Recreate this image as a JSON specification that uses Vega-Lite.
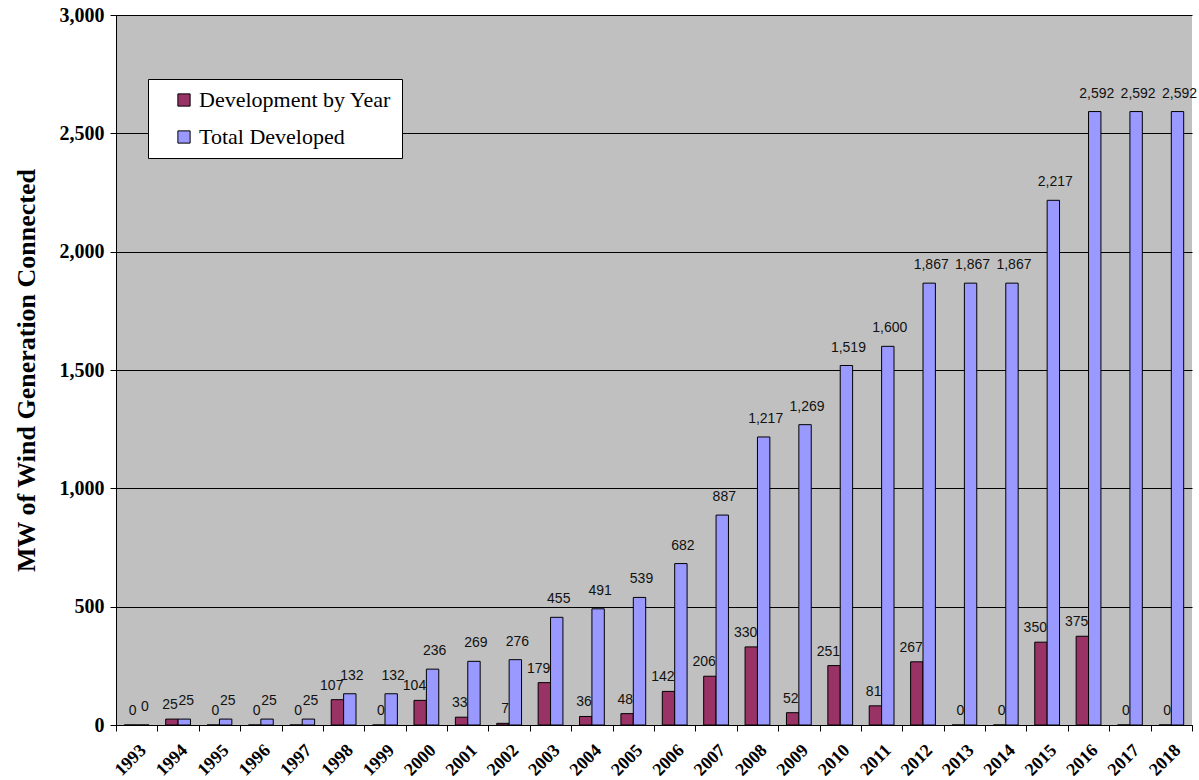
{
  "$schema": "https://vega.github.io/schema/vega-lite/v6.json",
  "width": 1076,
  "height": 710,
  "autosize": {"type": "none"},
  "padding": {"left": 116, "top": 15, "right": 7, "bottom": 55},
  "background": "white",
  "config": {
    "view": {"fill": "#C0C0C0", "stroke": null},
    "axis": {"domainColor": "black", "tickColor": "black", "gridColor": "black", "gridOpacity": 1, "labelColor": "black", "titleColor": "black"}
  },
  "data": {
    "values": [
      {"year": "1993", "series": "Development by Year", "value": 0},
      {"year": "1993", "series": "Total Developed", "value": 0},
      {"year": "1994", "series": "Development by Year", "value": 25},
      {"year": "1994", "series": "Total Developed", "value": 25},
      {"year": "1995", "series": "Development by Year", "value": 0},
      {"year": "1995", "series": "Total Developed", "value": 25},
      {"year": "1996", "series": "Development by Year", "value": 0},
      {"year": "1996", "series": "Total Developed", "value": 25},
      {"year": "1997", "series": "Development by Year", "value": 0},
      {"year": "1997", "series": "Total Developed", "value": 25},
      {"year": "1998", "series": "Development by Year", "value": 107},
      {"year": "1998", "series": "Total Developed", "value": 132},
      {"year": "1999", "series": "Development by Year", "value": 0},
      {"year": "1999", "series": "Total Developed", "value": 132},
      {"year": "2000", "series": "Development by Year", "value": 104},
      {"year": "2000", "series": "Total Developed", "value": 236},
      {"year": "2001", "series": "Development by Year", "value": 33},
      {"year": "2001", "series": "Total Developed", "value": 269},
      {"year": "2002", "series": "Development by Year", "value": 7},
      {"year": "2002", "series": "Total Developed", "value": 276},
      {"year": "2003", "series": "Development by Year", "value": 179},
      {"year": "2003", "series": "Total Developed", "value": 455},
      {"year": "2004", "series": "Development by Year", "value": 36},
      {"year": "2004", "series": "Total Developed", "value": 491},
      {"year": "2005", "series": "Development by Year", "value": 48},
      {"year": "2005", "series": "Total Developed", "value": 539},
      {"year": "2006", "series": "Development by Year", "value": 142},
      {"year": "2006", "series": "Total Developed", "value": 682},
      {"year": "2007", "series": "Development by Year", "value": 206},
      {"year": "2007", "series": "Total Developed", "value": 887},
      {"year": "2008", "series": "Development by Year", "value": 330},
      {"year": "2008", "series": "Total Developed", "value": 1217},
      {"year": "2009", "series": "Development by Year", "value": 52},
      {"year": "2009", "series": "Total Developed", "value": 1269},
      {"year": "2010", "series": "Development by Year", "value": 251},
      {"year": "2010", "series": "Total Developed", "value": 1519},
      {"year": "2011", "series": "Development by Year", "value": 81},
      {"year": "2011", "series": "Total Developed", "value": 1600},
      {"year": "2012", "series": "Development by Year", "value": 267},
      {"year": "2012", "series": "Total Developed", "value": 1867},
      {"year": "2013", "series": "Development by Year", "value": 0},
      {"year": "2013", "series": "Total Developed", "value": 1867},
      {"year": "2014", "series": "Development by Year", "value": 0},
      {"year": "2014", "series": "Total Developed", "value": 1867},
      {"year": "2015", "series": "Development by Year", "value": 350},
      {"year": "2015", "series": "Total Developed", "value": 2217},
      {"year": "2016", "series": "Development by Year", "value": 375},
      {"year": "2016", "series": "Total Developed", "value": 2592},
      {"year": "2017", "series": "Development by Year", "value": 0},
      {"year": "2017", "series": "Total Developed", "value": 2592},
      {"year": "2018", "series": "Development by Year", "value": 0},
      {"year": "2018", "series": "Total Developed", "value": 2592}
    ]
  },
  "encoding": {
    "x": {
      "field": "year", "type": "nominal",
      "scale": {"paddingInner": 0, "paddingOuter": 0},
      "axis": {
        "title": null, "labelAngle": -45, "labelFont": "Liberation Serif", "labelFontWeight": "bold",
        "labelFontSize": 18, "tickBand": "extent", "tickSize": 6, "labelPadding": 10, "grid": false
      }
    },
    "xOffset": {"field": "series", "type": "nominal", "scale": {"domain": ["Development by Year", "Total Developed"], "paddingOuter": 0.67, "paddingInner": 0}},
    "y": {
      "field": "value", "type": "quantitative",
      "scale": {"domain": [0, 3000], "nice": false},
      "axis": {
        "title": "MW of Wind Generation Connected", "titleFont": "Liberation Serif", "titleFontWeight": "bold",
        "titleFontSize": 26, "titlePadding": 20, "values": [0, 500, 1000, 1500, 2000, 2500, 3000],
        "format": ",.0f", "labelFont": "Liberation Serif", "labelFontWeight": "bold", "labelFontSize": 20,
        "tickSize": 6, "labelPadding": 6, "grid": true, "gridWidth": 1
      }
    }
  },
  "layer": [
    {
      "mark": {"type": "bar", "stroke": "black", "strokeWidth": 1},
      "encoding": {
        "color": {
          "field": "series", "type": "nominal",
          "scale": {"domain": ["Development by Year", "Total Developed"], "range": ["#993366", "#9999FF"]},
          "legend": {
            "title": null, "orient": "none", "legendX": 32, "legendY": 64,
            "fillColor": "white", "strokeColor": "black", "padding": 10, "symbolOffset": 15,
            "symbolType": "square", "symbolSize": 150, "symbolStrokeColor": "black", "symbolStrokeWidth": 1,
            "labelFont": "Liberation Serif", "labelFontSize": 22, "labelColor": "black", "labelOffset": 4,
            "rowPadding": 15, "labelLimit": 400
          }
        }
      }
    },
    {
      "transform": [{"filter": "datum.series === 'Development by Year'"}],
      "mark": {"type": "text", "baseline": "bottom", "align": "right", "dx": 6, "dy": -7, "font": "Liberation Sans", "fontSize": 14, "color": "#111111"},
      "encoding": {
        "text": {"field": "value", "type": "quantitative", "format": ",.0f"}
      }
    },
    {
      "transform": [{"filter": "datum.series === 'Total Developed'"}],
      "mark": {"type": "text", "baseline": "bottom", "align": "center", "dx": 2, "dy": -11, "font": "Liberation Sans", "fontSize": 14, "color": "#111111"},
      "encoding": {
        "text": {"field": "value", "type": "quantitative", "format": ",.0f"}
      }
    }
  ]
}
